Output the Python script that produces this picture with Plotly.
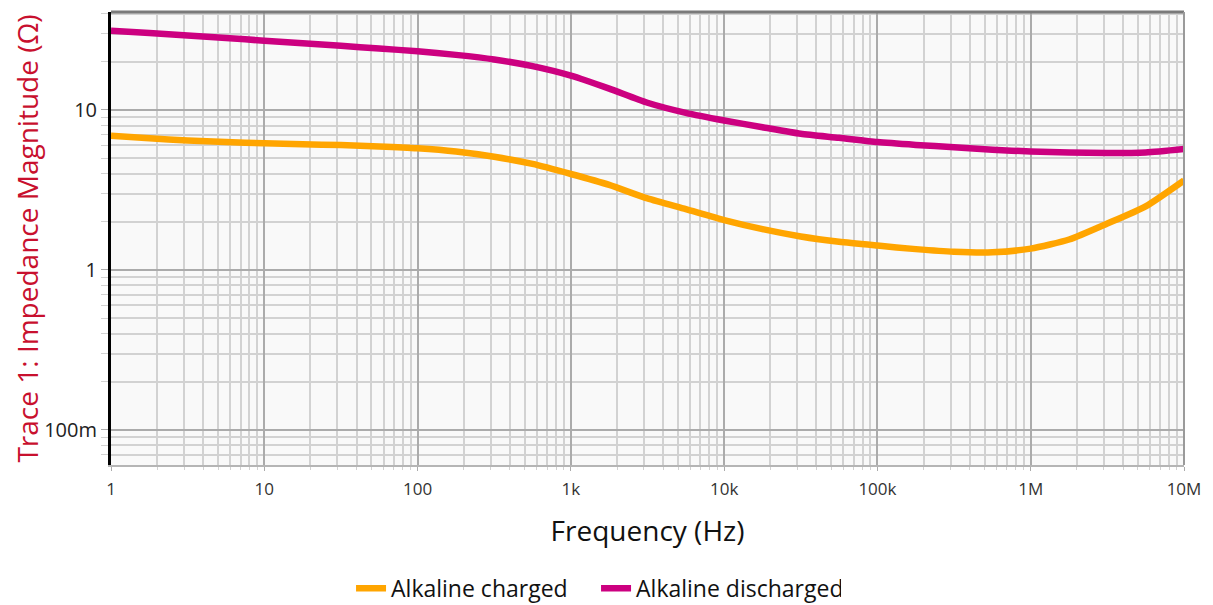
import plotly.graph_objects as go

# ---- data ----
freq_hz = [1, 1.78, 3.16, 5.62, 10, 17.8, 31.6, 56.2, 100, 178, 316, 562,
           1000, 1780, 3160, 5620, 10000, 17800, 31600, 56200, 100000,
           178000, 316000, 562000, 1000000, 1780000, 3160000, 5620000, 10000000]
alkaline_charged = [6.9, 6.65, 6.45, 6.3, 6.2, 6.1, 6.04, 5.92, 5.76, 5.5, 5.1, 4.6,
                    3.98, 3.4, 2.8, 2.4, 2.05, 1.8, 1.62, 1.5, 1.42, 1.35, 1.3, 1.29,
                    1.36, 1.55, 1.95, 2.5, 3.63]
alkaline_discharged = [31.3, 30.3, 29.2, 28.2, 27.1, 26.1, 25.2, 24.2, 23.3, 22.1, 20.7, 18.8,
                       16.4, 13.6, 11.1, 9.6, 8.6, 7.8, 7.1, 6.7, 6.3, 6.05, 5.85, 5.65,
                       5.5, 5.42, 5.38, 5.42, 5.7]
x_tick_vals = [1, 10, 100, 1000, 10000, 100000, 1000000, 10000000]
x_tick_text = ["1", "10", "100", "1k", "10k", "100k", "1M", "10M"]
y_tick_vals = [0.1, 1, 10]
y_tick_text = ["100m", "1", "10"]
title_text = "Impedance Comparison (Compare charged and depleted)"

FONT = "Open Sans"

fig = go.Figure()
fig.add_trace(go.Scatter(x=freq_hz, y=alkaline_charged, mode="lines",
                         name="Alkaline charged",
                         line=dict(color="#FFA500", width=6.5, shape="spline", smoothing=0.6)))
fig.add_trace(go.Scatter(x=freq_hz, y=alkaline_discharged, mode="lines",
                         name="Alkaline discharged",
                         line=dict(color="#CC0080", width=6.5, shape="spline", smoothing=0.6)))

fig.update_xaxes(type="log", range=[0, 7], automargin=False,
                 tickvals=x_tick_vals, ticktext=x_tick_text,
                 tickfont=dict(family=FONT, size=17, color="#333333"),
                 ticklabelstandoff=4,
                 showgrid=True, gridcolor="#ababab", gridwidth=2,
                 minor=dict(dtick="D1", showgrid=True, gridcolor="#d2d2d2", gridwidth=1.5,
                            ticks="outside", ticklen=3, tickcolor="#d2d2d2"),
                 ticks="outside", ticklen=4, tickcolor="#ababab",
                 showline=True, linecolor="#b5b5b5", linewidth=2,
                 zeroline=False,
                 title=dict(text="Frequency (Hz)", standoff=22,
                            font=dict(family=FONT, size=28, color="#111111")))

fig.update_yaxes(type="log", range=[-1.219, 1.6125], automargin=False,
                 tickvals=y_tick_vals, ticktext=y_tick_text,
                 tickfont=dict(family=FONT, size=20, color="#222222"),
                 showgrid=True, gridcolor="#ababab", gridwidth=2,
                 minor=dict(dtick="D1", showgrid=True, gridcolor="#d2d2d2", gridwidth=1.5,
                            ticks="outside", ticklen=7, tickcolor="#d2d2d2"),
                 ticks="outside", ticklen=7, tickcolor="#ababab",
                 showline=True, linecolor="#000000", linewidth=3,
                 zeroline=False,
                 title=dict(text="Trace 1: Impedance Magnitude (Ω)", standoff=16,
                            font=dict(family=FONT, size=28, color="#C8102E")))

# plot frame: dark top border, grey right border
fig.add_shape(type="line", xref="paper", yref="paper", x0=0, x1=1, y0=1, y1=1,
              line=dict(color="#7a7a7a", width=3))
fig.add_shape(type="line", xref="paper", yref="paper", x0=1, x1=1, y0=0, y1=1,
              line=dict(color="#9a9a9a", width=2))

# title, mostly cut off at the top of the page like the reference
fig.add_annotation(text=title_text, xref="paper", yref="paper", x=0.5, y=1.0177,
                   xanchor="center", yanchor="bottom", showarrow=False,
                   font=dict(family=FONT, size=22, color="#111111"))

fig.update_layout(
    width=1205, height=597,
    margin=dict(l=103, r=29, t=4, b=140),
    paper_bgcolor="#ffffff", plot_bgcolor="#f9f9f9",
    font=dict(family=FONT),
    showlegend=True,
    legend=dict(orientation="h", xref="container", yref="container",
                x=0.488, xanchor="center", y=0.028, yanchor="middle",
                font=dict(family=FONT, size=23, color="#111111"),
                itemwidth=30, entrywidth=200, tracegroupgap=0),
)

fig.write_html("out.html")
